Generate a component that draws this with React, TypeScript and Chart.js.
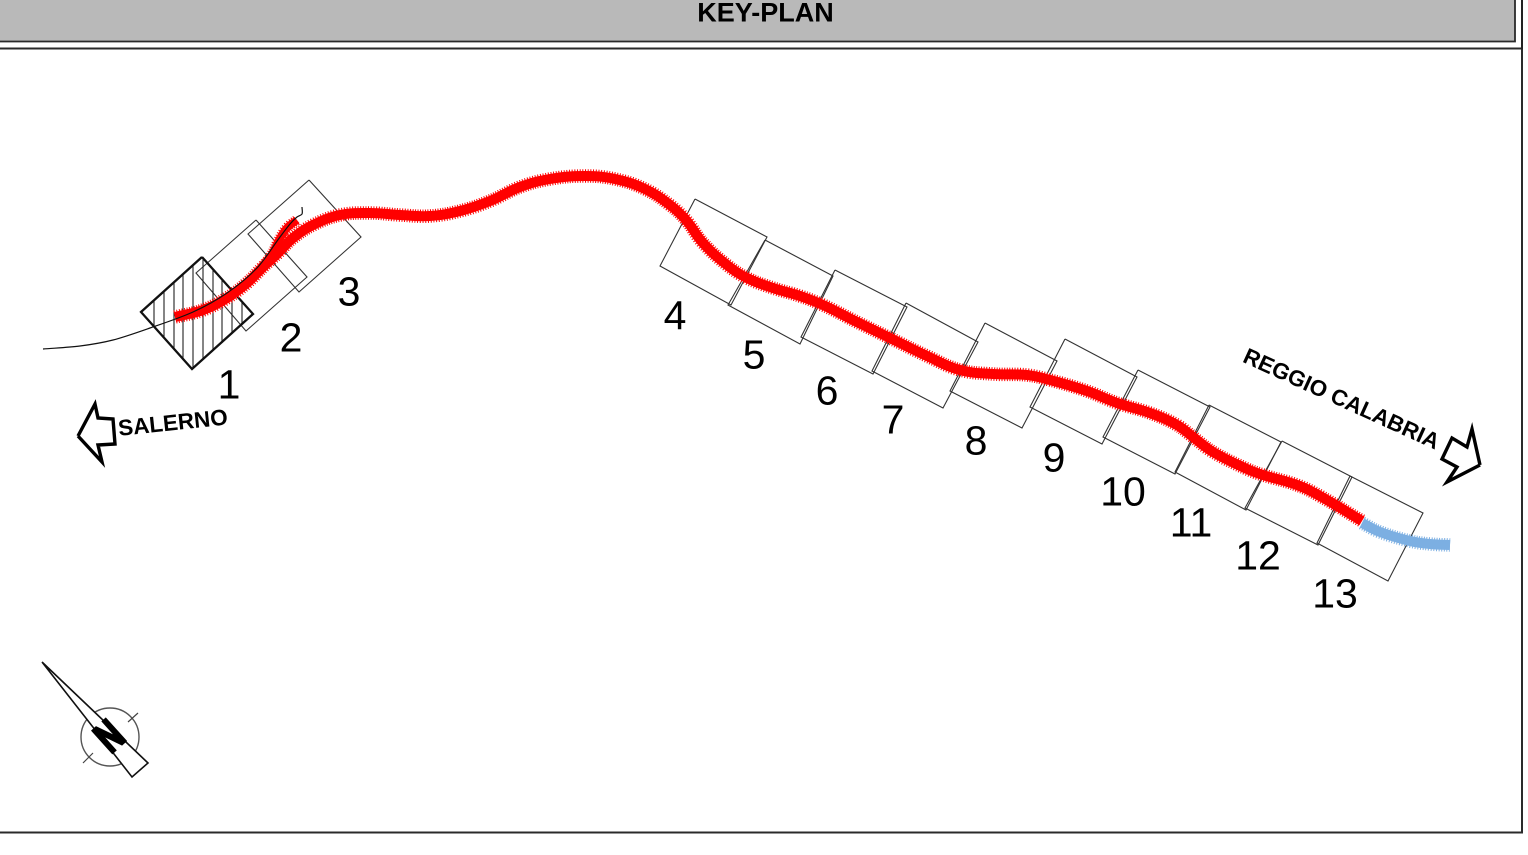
import React, { useEffect, useRef } from "react";
import { Chart, registerables } from "chart.js";

Chart.register(...registerables);

type P = [number, number];

const headerBand: P[] = [[-5, -5], [1515, -5], [1515, 41.5], [-5, 41.5], [-5, -5]];
const frame: P[] = [[-5, 48.5], [1522, 48.5], [1522, 832.5], [-5, 832.5]];
const frameRightTop: P[] = [[1522, -5], [1522, 49]];

const sheetOne: P[] = [[202, 257], [253, 314], [192, 369], [141, 312]];
const sheets: P[][] = [
  [[256, 220], [307, 277], [246, 331], [196, 273]],
  [[309, 180], [361, 237], [299, 292], [248, 234]],
  [[695, 199], [767, 237], [731, 305], [660, 266]],
  [[765, 240], [833, 276], [800, 344], [728, 305]],
  [[835, 270], [907, 307], [873, 374], [801, 337]],
  [[906, 303], [978, 342], [943, 408], [872, 371]],
  [[985, 323], [1057, 361], [1022, 428], [950, 391]],
  [[1065, 339], [1137, 377], [1102, 444], [1030, 407]],
  [[1138, 370], [1210, 407], [1175, 474], [1103, 437]],
  [[1209, 405], [1281, 442], [1246, 510], [1175, 472]],
  [[1282, 441], [1352, 477], [1318, 545], [1245, 508]],
  [[1350, 476], [1423, 513], [1388, 581], [1317, 543]],
];

const hatchX = [154, 164, 174, 183, 193, 203, 213, 222, 232, 242];
const hatchTop = [300, 291, 282, 274, 265, 258, 269, 279, 290, 301];
const hatchBottom = [327, 338, 349, 359, 368, 360, 351, 343, 333, 324];

const redMain: P[] = [
  [175, 317], [203, 310], [227, 298], [247, 283], [263, 267], [277, 254], [293, 238], [313, 225], [340, 215], [370, 213],
  [400, 215], [430, 216], [460, 211], [490, 201], [520, 187], [550, 179], [585, 176], [615, 179], [645, 189], [670, 205],
  [686, 220], [703, 243], [727, 265], [747, 278], [773, 288], [800, 296], [823, 305], [857, 322], [890, 338], [927, 356],
  [960, 370], [993, 374], [1027, 375], [1050, 380], [1087, 391], [1117, 403], [1150, 413], [1177, 425], [1193, 437],
  [1213, 452], [1247, 469], [1263, 475], [1297, 485], [1320, 496], [1362, 521],
];
const redBranch: P[] = [[263, 267], [272, 254], [279, 240], [287, 228], [297, 220]];
const blueEnd: P[] = [[1362, 523], [1380, 532], [1410, 541], [1430, 544], [1450, 545]];
const blackRoad: P[] = [
  [43, 349], [80, 346], [113, 340], [150, 328], [193, 312], [227, 293], [257, 268], [280, 237], [290, 224], [297, 217], [302, 214], [302, 207],
];

const arrowSalerno: P[] = [[78, 436], [95, 404], [98, 418], [113, 419], [115, 444], [98, 445], [102, 462], [78, 436]];
const arrowReggio: P[] = [[1480, 465], [1472, 429], [1467, 447], [1452, 438], [1442, 459], [1457, 467], [1447, 482], [1480, 465]];
const needle: P[] = [[42, 662], [148, 763], [132, 777], [42, 662]];
const compassCentre: P[] = [[110, 737]];
const compassTicks: (P | null)[] = [[128, 722], [138, 713], null, [83, 763], [93, 753]];

const sheetNumbers = ["1", "2", "3", "4", "5", "6", "7", "8", "9", "10", "11", "12", "13"];
const sheetNumberX = [229, 291, 349, 675, 754, 827, 893, 976, 1054, 1123, 1191, 1258, 1335];
const sheetNumberY = [387, 340, 294, 318, 357, 393, 422, 443, 460, 494, 525, 558, 596];

const toXY = (pts: (P | null)[]) =>
  pts.map((p) => (p ? { x: p[0], y: p[1] } : { x: NaN, y: NaN }));
const closed = (pts: P[]) => [...pts, pts[0]];
const hatchPoints = (): (P | null)[] =>
  hatchX.flatMap((x, i) => [[x, hatchTop[i]] as P, [x, hatchBottom[i]] as P, null]);

const line = (pts: (P | null)[], color: string, width: number, extra: object = {}) => ({
  data: toXY(pts),
  showLine: true,
  borderColor: color,
  borderWidth: width,
  pointRadius: 0,
  tension: 0,
  fill: false,
  spanGaps: false,
  ...extra,
});

const RED = "#ff0000";
const BLUE = "#7cafe2";
const FONT = '"Liberation Sans", Arial, sans-serif';

const textPlugin = {
  id: "planText",
  afterDatasetsDraw(chart: any) {
    const { ctx, scales } = chart;
    const px = (v: number) => scales.x.getPixelForValue(v);
    const py = (v: number) => scales.y.getPixelForValue(v);
    const put = (t: string, x: number, y: number, font: string, rot = 0, sx = 1, stroke = 0) => {
      ctx.save();
      ctx.translate(px(x), py(y));
      ctx.rotate((rot * Math.PI) / 180);
      ctx.scale(sx, 1);
      ctx.font = font;
      ctx.fillStyle = "#000";
      ctx.textAlign = "center";
      ctx.textBaseline = "middle";
      ctx.fillText(t, 0, 0);
      if (stroke) {
        ctx.lineWidth = stroke;
        ctx.strokeStyle = "#000";
        ctx.strokeText(t, 0, 0);
      }
      ctx.restore();
    };
    put("KEY-PLAN", 765.5, 14, `bold 27px ${FONT}`);
    sheetNumbers.forEach((n, i) => put(n, sheetNumberX[i], sheetNumberY[i], `41px ${FONT}`));
    put("SALERNO", 173, 424, `bold 22.5px ${FONT}`, -6);
    put("REGGIO CALABRIA", 1341, 400, `bold 22.4px ${FONT}`, 24.5);
    put("N", 111, 738, `bold 42px ${FONT}`, -42, 0.72, 3);
  },
};

export default function App() {
  const ref = useRef<HTMLCanvasElement>(null);
  useEffect(() => {
    if (!ref.current) return;
    const datasets: any[] = [
      line(blackRoad, "#111", 1.2, { tension: 0.3 }),
      line(redBranch, RED, 8, { tension: 0.4 }),
      line(redMain, RED, 10, { tension: 0.4 }),
      line(redMain, RED, 13.5, { tension: 0.4, borderDash: [1, 1.6] }),
      line(redBranch, RED, 11, { tension: 0.4, borderDash: [1, 1.6] }),
      line(blueEnd, BLUE, 10, { tension: 0.4 }),
      line(blueEnd, BLUE, 13.5, { tension: 0.4, borderDash: [1, 1.6] }),
      line(closed(needle), "#111", 1.6, { fill: "shape", backgroundColor: "#fff" }),
      line(compassTicks, "#444", 1.2),
      line(compassCentre, "#555", 0, {
        showLine: false,
        pointRadius: 29,
        pointBorderWidth: 1.4,
        pointBorderColor: "#555",
        pointBackgroundColor: "rgba(0,0,0,0)",
      }),
      line(arrowSalerno, "#000", 3.4, { borderJoinStyle: "miter" }),
      line(arrowReggio, "#000", 3.4, { borderJoinStyle: "miter" }),
      line(closed(sheetOne), "#111", 2.3, { borderJoinStyle: "miter" }),
      line(hatchPoints(), "#222", 1.1),
      ...sheets.map((s) => line(closed(s), "#333", 1.1, { borderJoinStyle: "miter" })),
      line(frameRightTop, "#222", 2),
      line(frame, "#2a2a2a", 2),
      line(headerBand, "#2a2a2a", 1.8, { fill: "shape", backgroundColor: "#b9b9b9" }),
    ];
    const chart = new Chart(ref.current, {
      type: "scatter",
      data: { datasets },
      options: {
        animation: false,
        responsive: false,
        devicePixelRatio: 2,
        layout: { padding: 0, autoPadding: false },
        plugins: { legend: { display: false }, tooltip: { enabled: false }, title: { display: false } },
        scales: {
          x: { type: "linear", min: 0, max: 1528, display: false },
          y: { type: "linear", min: 0, max: 855, reverse: true, display: false },
        },
      },
      plugins: [textPlugin],
    } as any);
    return () => chart.destroy();
  }, []);
  return (
    <div style={{ position: "fixed", left: 0, top: 0, width: 1528, height: 855, background: "#fff" }}>
      <canvas ref={ref} width={1528} height={855} style={{ display: "block", width: 1528, height: 855 }} />
    </div>
  );
}
